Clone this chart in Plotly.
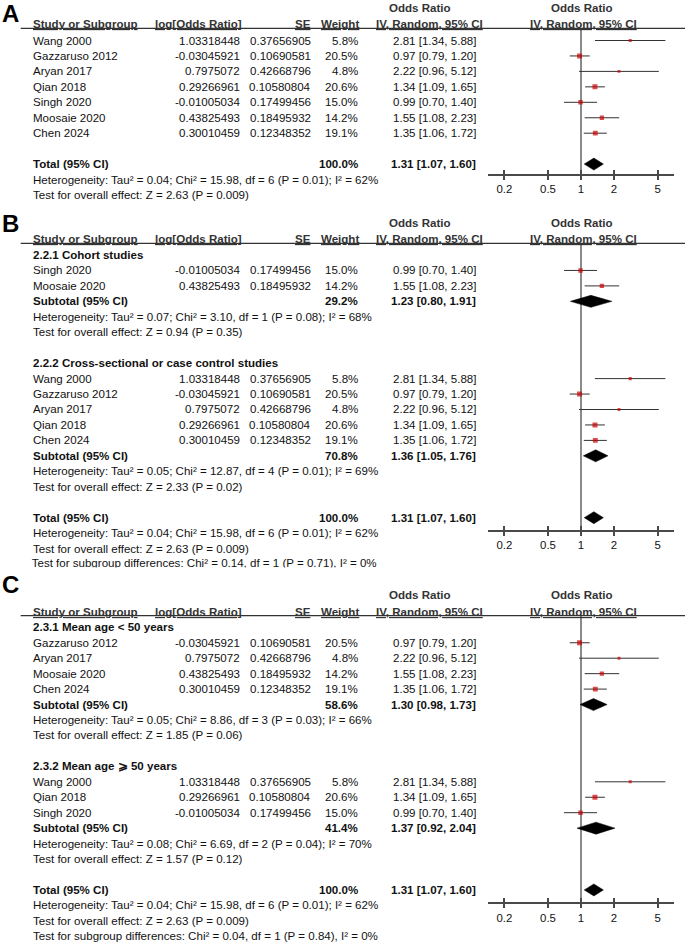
import plotly.graph_objects as go

W, H = 685, 942
FONT = "Liberation Sans, Arial, Helvetica, sans-serif"
TXT = "#111111"
HDR = "#333333"
FS = 11.55

# ---------------- data ----------------
studies = ["Wang 2000", "Gazzaruso 2012", "Aryan 2017", "Qian 2018",
           "Singh 2020", "Moosaie 2020", "Chen 2024"]
log_or = [1.03318448, -0.03045921, 0.7975072, 0.29266961,
          -0.01005034, 0.43825493, 0.30010459]
se = [0.37656905, 0.10690581, 0.42668796, 0.10580804,
      0.17499456, 0.18495932, 0.12348352]
weight = [5.8, 20.5, 4.8, 20.6, 15.0, 14.2, 19.1]
or_est = [2.81, 0.97, 2.22, 1.34, 0.99, 1.55, 1.35]
or_lo = [1.34, 0.79, 0.96, 1.09, 0.70, 1.08, 1.06]
or_hi = [5.88, 1.20, 5.12, 1.65, 1.40, 2.23, 1.72]

# pooled estimates: overall, B subgroups, C subgroups
pool_names = ["Total", "2.2.1 Cohort studies",
              "2.2.2 Cross-sectional or case control studies",
              "2.3.1 Mean age < 50 years", "2.3.2 Mean age \u2A7E 50 years"]
pool_weight = [100.0, 29.2, 70.8, 58.6, 41.4]
pool_est = [1.31, 1.23, 1.36, 1.30, 1.37]
pool_lo = [1.07, 0.80, 1.05, 0.98, 0.92]
pool_hi = [1.60, 1.91, 1.76, 1.73, 2.04]
pool_tau2 = ["0.04", "0.07", "0.05", "0.05", "0.08"]
pool_chi2 = ["15.98", "3.10", "12.87", "8.86", "6.69"]
pool_df = [6, 1, 4, 3, 2]
pool_phet = ["0.01", "0.08", "0.01", "0.03", "0.04"]
pool_i2 = [62, 68, 69, 66, 70]
pool_z = ["2.63", "0.94", "2.33", "1.85", "1.57"]
pool_p = ["0.009", "0.35", "0.02", "0.06", "0.12"]

diff_chi2 = ["0.14", "0.04"]
diff_df = [1, 1]
diff_p = ["0.71", "0.84"]
diff_i2 = [0, 0]

tick_vals = [0.2, 0.5, 1, 2, 5]
tick_text = ["0.2", "0.5", "1", "2", "5"]

panel_A = [("study", i) for i in range(7)] + [("blank", None), ("pool", 0), ("het", 0), ("test", 0)]
panel_B = [("group", 1), ("study", 4), ("study", 5), ("sub", 1), ("het", 1), ("test", 1), ("blank", None),
           ("group", 2), ("study", 0), ("study", 1), ("study", 2), ("study", 3), ("study", 6),
           ("sub", 2), ("het", 2), ("test", 2), ("blank", None),
           ("pool", 0), ("het", 0), ("test", 0), ("diff", 0)]
panel_C = [("group", 3), ("study", 1), ("study", 2), ("study", 5), ("study", 6), ("sub", 3), ("het", 3), ("test", 3), ("blank", None),
           ("group", 4), ("study", 0), ("study", 3), ("study", 4), ("sub", 4), ("het", 4), ("test", 4), ("blank", None),
           ("pool", 0), ("het", 0), ("test", 0), ("diff", 1)]

# ---------------- layout geometry (px) ----------------
X_NAME, X_LOGOR, X_SE, X_W, X_CI = 31.7, 240.7, 311.7, 359.3, 477.3
ROW = 15.45
PLOT_L, PLOT_R = 488.3, 673.7
LOG_HALF = 0.845
DIAM_H = 6.0

panels = [
    dict(letter="A", letter_y=13.4, hl=28.3, y0=40.5, axis_y=174.0, top=0.0, rows=panel_A),
    dict(letter="B", letter_y=224.0, hl=243.3, y0=255.0, axis_y=530.0, top=200.0, rows=panel_B),
    dict(letter="C", letter_y=584.0, hl=615.7, y0=627.3, axis_y=902.3, top=570.0, rows=panel_C),
]

fig = go.Figure()
ann = []
shapes = []


def add_text(x, y, s, anchor="left", bold=False, size=FS, color=TXT, underline=False):
    f = dict(family=FONT, size=size, color=color)
    if underline:
        f["lineposition"] = "under"
    ann.append(dict(x=x / W, y=1 - y / H, xref="paper", yref="paper",
                    text=f"<b>{s}</b>" if bold else s, showarrow=False,
                    xanchor=anchor, yanchor="middle", font=f, borderpad=0))


def ci_text(e, lo, hi):
    return f"{e:.2f} [{lo:.2f}, {hi:.2f}]"


layout_axes = {}
for k, p in enumerate(panels, start=1):
    xa = "x" if k == 1 else f"x{k}"
    ya = "y" if k == 1 else f"y{k}"
    # axes
    layout_axes["xaxis" if k == 1 else f"xaxis{k}"] = dict(
        type="log", domain=[PLOT_L / W, PLOT_R / W], range=[-LOG_HALF, LOG_HALF],
        anchor=ya, showline=True, linecolor="#4a4a4a", linewidth=1.5,
        ticks="outside", ticklen=4, tickwidth=1.5, tickcolor="#4a4a4a",
        tickvals=tick_vals, ticktext=tick_text, showgrid=False, zeroline=False,
        tickfont=dict(family=FONT, size=11.4, color=TXT), fixedrange=True)
    layout_axes[f"xaxis{k + 3}"] = dict(
        type="log", domain=[PLOT_L / W, PLOT_R / W], range=[-LOG_HALF, LOG_HALF],
        anchor=ya, overlaying=xa, showline=False, ticks="inside", ticklen=4,
        tickwidth=1.5, tickcolor="#4a4a4a", tickvals=tick_vals,
        showticklabels=False, showgrid=False, zeroline=False, fixedrange=True)
    layout_axes["yaxis" if k == 1 else f"yaxis{k}"] = dict(
        domain=[1 - p["axis_y"] / H, 1 - p["top"] / H], range=[p["axis_y"], p["top"]],
        visible=False, anchor=xa, fixedrange=True)
    fig.add_trace(go.Scatter(x=[1], y=[p["axis_y"]], xaxis=f"x{k + 3}", yaxis=ya,
                             mode="markers", marker=dict(opacity=0), hoverinfo="skip",
                             showlegend=False))

    # letter + headers
    add_text(0.5, p["letter_y"], p["letter"], bold=True, size=24, color="#000000")
    hl = p["hl"]
    hy = hl - 4.2
    oy = hl - 20.5
    add_text(X_NAME, hy, "Study or Subgroup", bold=True, color=HDR, underline=True)
    add_text(243.0, hy, "log[Odds Ratio]", anchor="right", bold=True, color=HDR, underline=True)
    add_text(X_SE, hy, "SE", anchor="right", bold=True, color=HDR, underline=True)
    add_text(359.8, hy, "Weight", anchor="right", bold=True, color=HDR, underline=True)
    add_text(420.2, oy, "Odds Ratio", anchor="center", bold=True, color=HDR)
    add_text(429.0, hy, "IV, Random, 95% CI", anchor="center", bold=True, color=HDR, underline=True)
    add_text(581.8, oy, "Odds Ratio", anchor="center", bold=True, color=HDR)
    add_text(583.0, hy, "IV, Random, 95% CI", anchor="center", bold=True, color=HDR, underline=True)
    shapes.append(dict(type="line", xref="paper", yref="paper", x0=20.7 / W, x1=1.0,
                       y0=1 - hl / H, y1=1 - hl / H, line=dict(color="#333333", width=1.3)))

    # vertical line of no effect
    fig.add_trace(go.Scatter(x=[1, 1], y=[hl, p["axis_y"]], xaxis=xa, yaxis=ya, mode="lines",
                             line=dict(color="#8a8a8a", width=2), hoverinfo="skip", showlegend=False))

    ci_x, ci_y, sq_x, sq_y, sq_s = [], [], [], [], []
    for r, (kind, idx) in enumerate(p["rows"]):
        y = p["y0"] + r * ROW
        if kind == "study":
            add_text(X_NAME, y, studies[idx])
            add_text(X_LOGOR, y, str(log_or[idx]), anchor="right")
            add_text(X_SE, y, str(se[idx]), anchor="right")
            add_text(X_W, y, f"{weight[idx]:.1f}%", anchor="right")
            add_text(X_CI, y, ci_text(or_est[idx], or_lo[idx], or_hi[idx]), anchor="right")
            ci_x += [or_lo[idx], or_hi[idx], None]
            ci_y += [y, y, None]
            sq_x.append(or_est[idx])
            sq_y.append(y)
            sq_s.append(0.9 * weight[idx] ** 0.5 + 0.9)
        elif kind == "group":
            add_text(X_NAME, y, pool_names[idx], bold=True)
        elif kind in ("pool", "sub"):
            label = "Total (95% CI)" if kind == "pool" else "Subtotal (95% CI)"
            add_text(X_NAME, y, label, bold=True)
            add_text(X_W, y, f"{pool_weight[idx]:.1f}%", anchor="right", bold=True)
            add_text(X_CI, y, ci_text(pool_est[idx], pool_lo[idx], pool_hi[idx]), anchor="right", bold=True)
            fig.add_trace(go.Scatter(
                x=[pool_lo[idx], pool_est[idx], pool_hi[idx], pool_est[idx], pool_lo[idx]],
                y=[y, y - DIAM_H, y, y + DIAM_H, y], xaxis=xa, yaxis=ya, mode="lines",
                fill="toself", fillcolor="#000000", line=dict(color="#000000", width=0.5),
                hoverinfo="skip", showlegend=False))
        elif kind == "het":
            add_text(X_NAME, y, f"Heterogeneity: Tau\u00b2 = {pool_tau2[idx]}; Chi\u00b2 = {pool_chi2[idx]}, "
                                f"df = {pool_df[idx]} (P = {pool_phet[idx]}); I\u00b2 = {pool_i2[idx]}%")
        elif kind == "test":
            add_text(X_NAME, y, f"Test for overall effect: Z = {pool_z[idx]} (P = {pool_p[idx]})")
        elif kind == "diff":
            s = (f"Test for subgroup differences: Chi\u00b2 = {diff_chi2[idx]}, df = {diff_df[idx]} "
                 f"(P = {diff_p[idx]}), I\u00b2 = {diff_i2[idx]}%")
            if k == 2:
                # clipped by the next panel, as in the original figure
                fig.add_trace(go.Scatter(x=[X_NAME], y=[y], xaxis="x7", yaxis="y4", mode="text",
                                         text=[s], textposition="middle right", cliponaxis=True,
                                         textfont=dict(family=FONT, size=FS, color=TXT),
                                         hoverinfo="skip", showlegend=False))
            else:
                add_text(X_NAME, y, s)

    fig.add_trace(go.Scatter(x=ci_x, y=ci_y, xaxis=xa, yaxis=ya, mode="lines",
                             line=dict(color="#333333", width=1), hoverinfo="skip", showlegend=False))
    fig.add_trace(go.Scatter(x=sq_x, y=sq_y, xaxis=xa, yaxis=ya, mode="markers",
                             marker=dict(symbol="square", size=sq_s, color="#cc0000", line=dict(width=0)),
                             hoverinfo="skip", showlegend=False))

layout_axes["xaxis7"] = dict(domain=[0, 1], range=[0, W], visible=False, anchor="y4", fixedrange=True)
layout_axes["yaxis4"] = dict(domain=[1 - 567.5 / H, 1 - 450 / H], range=[567.5, 450],
                             visible=False, anchor="x7", fixedrange=True)

fig.update_layout(
    width=W, height=H, margin=dict(l=0, r=0, t=0, b=0),
    paper_bgcolor="white", plot_bgcolor="rgba(0,0,0,0)",
    showlegend=False, annotations=ann, shapes=shapes, **layout_axes)

fig.write_html("out.html", config={"displayModeBar": False},
               post_script="document.body.style.margin='0';document.body.style.overflow='hidden';")
